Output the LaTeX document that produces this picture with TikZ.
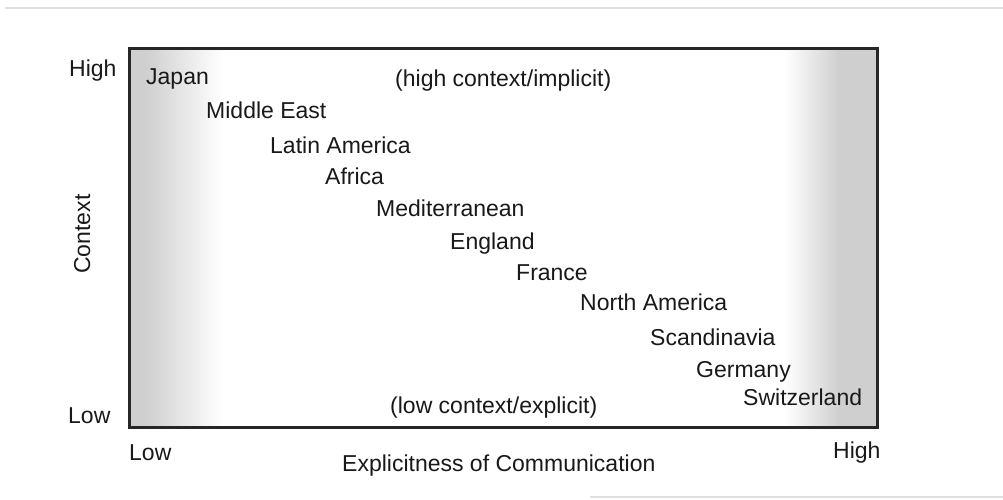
\documentclass[tikz,border=0pt]{standalone}
\usepackage{fontspec}
\setmainfont{Liberation Sans}
\begin{document}
\begin{tikzpicture}[x=1pt,y=-1pt,
  lbl/.style={inner sep=0pt,anchor=base west,text=black!90,font=\fontsize{23}{27}\selectfont},
  frame/.style={line width=2.6pt,draw=black!85}]
\useasboundingbox (0,0) rectangle (1003,500);
\fill[white] (0,0) rectangle (1003,500);
% scan separator lines
\draw[black!12,line width=2pt] (5,8) -- (1003,8);
\draw[black!12,line width=1.5pt] (590,497) -- (1003,497);
% shaded bands
\fill[black!19] (130,49) rectangle (145,427);
\shade[left color=black!19,right color=white] (145,49) rectangle (222,427);
\shade[left color=white,right color=black!19] (785,49) rectangle (840,427);
\fill[black!19] (840,49) rectangle (877,427);
% frame
\draw[frame] (129.5,48.5) rectangle (877.5,427.5);
% labels
\node[lbl] (yhigh) at (69,77) {High};
\node[lbl] (ylow) at (68,423) {Low};
\node[lbl] (xlow) at (129,460) {Low};
\node[lbl] (xhigh) at (833,458) {High};
\node[lbl] (xtitle) at (342,471) {Explicitness of Communication};
\node[inner sep=0pt,anchor=base,rotate=90,text=black!90,font=\fontsize{23}{27}\selectfont] (ytitle) at (90,234) {Context};
\node[lbl] (hc) at (395,87) {(high context/implicit)};
\node[lbl] (lc) at (390,413) {(low context/explicit)};
\node[lbl] (japan) at (146,85) {Japan};
\node[lbl] (mideast) at (206,119) {Middle East};
\node[lbl] (latam) at (270,153) {Latin America};
\node[lbl] (africa) at (325,184) {Africa};
\node[lbl] (med) at (376,216) {Mediterranean};
\node[lbl] (england) at (450,249) {England};
\node[lbl] (france) at (516,280) {France};
\node[lbl] (namerica) at (580,310) {North America};
\node[lbl] (scand) at (650,345) {Scandinavia};
\node[lbl] (germany) at (696,377) {Germany};
\node[lbl] (swiss) at (743,405) {Switzerland};
\end{tikzpicture}
\end{document}
